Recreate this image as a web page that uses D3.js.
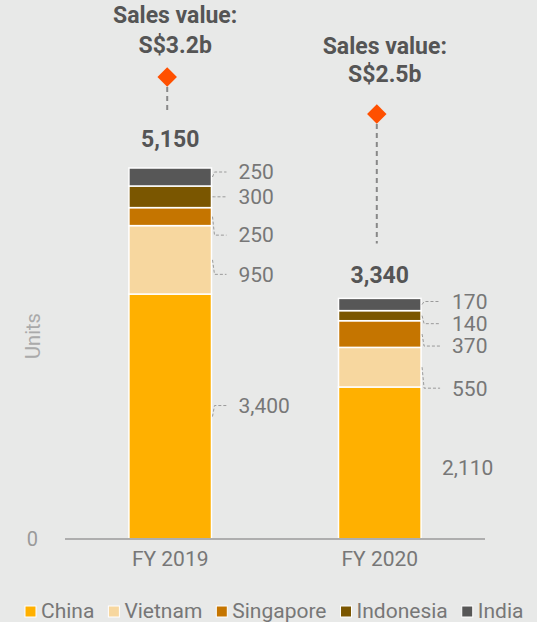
<!DOCTYPE html>
<html>
<head>
<meta charset="utf-8">
<script src="https://cdn.jsdelivr.net/npm/d3@7"></script>
<style>
  html, body { margin: 0; padding: 0; background: #e8e9e8; }
  svg { display: block; font-family: Roboto, "Noto Sans", sans-serif; }
</style>
</head>
<body>
<svg width="537" height="622"></svg>
<script>
// data
var years = ['FY 2019', 'FY 2020'];
var series = ['China', 'Vietnam', 'Singapore', 'Indonesia', 'India'];
var china = [3400, 2110];
var vietnam = [950, 550];
var singapore = [250, 370];
var indonesia = [300, 140];
var india = [250, 170];
var totals = [5150, 3340];
var salesValue = [3.2, 2.5];           // S$ billions
var salesLabels = ['S$3.2b', 'S$2.5b'];

var colors = ['#ffb000', '#f7d79f', '#c57500', '#7a5600', '#575757'];

// label layout (pixel nudges, Excel-style label placement)
var labelDy = [[-11, 14.5, 18.5, 0, -5], [4.5, 21, 12, 8, -3]];
var labelDx = [[27, 27, 27, 27, 27], [21, 31, 31, 31, 31]];
var leader = [[true, true, true, true, true], [false, true, true, true, true]];
var totalDy = [-21, -15];
var salesDy = [[-54, -24], [-60, -32]];

var svg = d3.select('svg');

// build stack table
var table = years.map(function (y, i) {
  return { year: y, China: china[i], Vietnam: vietnam[i], Singapore: singapore[i], Indonesia: indonesia[i], India: india[i] };
});
var stacked = d3.stack().keys(series)(table);

var x = d3.scaleBand().domain(years).range([65, 485]).paddingInner(0.606).paddingOuter(0.305);
var y = d3.scaleLinear().domain([0, 5150]).range([539, 168]);
var y2 = d3.scaleLinear().domain([0, 3.2]).range([246, 77]);   // sales value axis (hidden)

// bars
stacked.forEach(function (s, si) {
  svg.append('g').selectAll('rect')
    .data(s)
    .enter().append('rect')
    .attr('x', function (d) { return x(d.data.year); })
    .attr('y', function (d) { return y(d[1]); })
    .attr('width', x.bandwidth())
    .attr('height', function (d) { return y(d[0]) - y(d[1]); })
    .attr('fill', colors[si])
    .attr('stroke', '#ffffff')
    .attr('stroke-width', 1.5);
});

// data labels with leader lines
stacked.forEach(function (s, si) {
  s.forEach(function (d, yi) {
    var right = x(d.data.year) + x.bandwidth();
    var mid = (y(d[0]) + y(d[1])) / 2;
    var ly = mid + labelDy[yi][si];
    var lx = right + labelDx[yi][si];
    if (leader[yi][si]) {
      svg.append('path')
        .attr('d', d3.line()([[right + 1, mid], [right + 3, ly], [lx - 12, ly]]))
        .attr('fill', 'none')
        .attr('stroke', '#9a9a9a')
        .attr('stroke-width', 1)
        .attr('stroke-dasharray', '3,2');
    }
    svg.append('text')
      .attr('x', lx)
      .attr('y', ly)
      .attr('dy', '0.35em')
      .attr('fill', '#777777')
      .attr('font-size', 21)
      .text(d3.format(',')(d[1] - d[0]));
  });
});

// axis baseline and zero tick
svg.append('line')
  .attr('x1', 65).attr('x2', 485)
  .attr('y1', y(0)).attr('y2', y(0))
  .attr('stroke', '#aeaeae').attr('stroke-width', 2);

svg.append('text')
  .attr('x', 38).attr('y', y(0)).attr('dy', '0.35em')
  .attr('text-anchor', 'end')
  .attr('fill', '#9a9a9a').attr('font-size', 20)
  .text(y.ticks(1)[0]);

svg.append('text')
  .attr('transform', 'translate(40,336) rotate(-90)')
  .attr('text-anchor', 'middle')
  .attr('fill', '#aaaaaa').attr('font-size', 20)
  .text('Units');

// category labels
svg.selectAll('text.cat')
  .data(years)
  .enter().append('text')
  .attr('class', 'cat')
  .attr('x', function (d) { return x(d) + x.bandwidth() / 2; })
  .attr('y', 566)
  .attr('text-anchor', 'middle')
  .attr('fill', '#777777').attr('font-size', 21)
  .text(function (d) { return d; });

// totals, sales value markers
years.forEach(function (yr, i) {
  var cx = x(yr) + x.bandwidth() / 2;
  var top = y(totals[i]);
  var dyMark = y2(salesValue[i]);

  svg.append('text')
    .attr('x', cx).attr('y', top + totalDy[i])
    .attr('text-anchor', 'middle')
    .attr('fill', '#555555').attr('font-size', 23).attr('font-weight', 'bold')
    .text(d3.format(',')(totals[i]));

  svg.append('line')
    .attr('x1', cx - 3).attr('x2', cx - 3)
    .attr('y1', dyMark + 10).attr('y2', top - 55)
    .attr('stroke', '#888888').attr('stroke-width', 2)
    .attr('stroke-dasharray', '5,4');

  svg.append('path')
    .attr('d', d3.symbol().type(d3.symbolSquare).size(190)())
    .attr('transform', 'translate(' + (cx - 3) + ',' + dyMark + ') rotate(45)')
    .attr('fill', '#ff5000');

  svg.append('text')
    .attr('x', cx + 5).attr('y', dyMark + salesDy[i][0])
    .attr('text-anchor', 'middle')
    .attr('fill', '#555555').attr('font-size', 23).attr('font-weight', 'bold')
    .text('Sales value:');

  svg.append('text')
    .attr('x', cx + 5).attr('y', dyMark + salesDy[i][1])
    .attr('text-anchor', 'middle')
    .attr('fill', '#555555').attr('font-size', 23).attr('font-weight', 'bold')
    .text(salesLabels[i]);
});

// legend
var lx = 25;
series.forEach(function (name, i) {
  svg.append('rect')
    .attr('x', lx).attr('y', 606)
    .attr('width', 11).attr('height', 11)
    .attr('fill', colors[i])
    .attr('stroke', '#ffffff').attr('stroke-width', 1);
  var t = svg.append('text')
    .attr('x', lx + 16).attr('y', 618)
    .attr('fill', '#777777').attr('font-size', 21)
    .text(name);
  lx += 16 + t.node().getComputedTextLength() + 14;
});
</script>
</body>
</html>
